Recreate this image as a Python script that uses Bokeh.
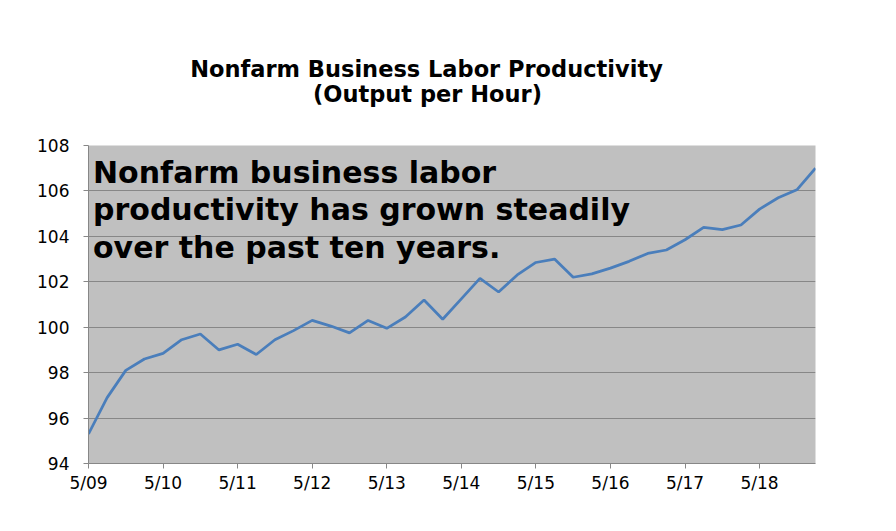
from bokeh.plotting import figure
from bokeh.layouts import column
from bokeh.models import ColumnDataSource, FixedTicker, Label, Range1d
from bokeh.embed import file_html
from bokeh.resources import INLINE

# Quarterly nonfarm business output per hour (index), Q2 2009 through Q1 2019
productivity = [
    95.3, 96.9, 98.1, 98.6, 98.85, 99.45, 99.7, 99.0, 99.25, 98.8,
    99.45, 99.85, 100.3, 100.05, 99.75, 100.3, 99.95, 100.45, 101.2, 100.35,
    101.25, 102.15, 101.55, 102.3, 102.85, 103.0, 102.2, 102.35, 102.6, 102.9,
    103.25, 103.4, 103.85, 104.4, 104.3, 104.5, 105.2, 105.7, 106.05, 107.0,
]
quarter = list(range(len(productivity)))

# One label per year, every fourth quarter
x_tick_labels = ["5/09", "5/10", "5/11", "5/12", "5/13",
                 "5/14", "5/15", "5/16", "5/17", "5/18"]
x_tick_pos = [4 * k for k in range(len(x_tick_labels))]
y_ticks = [94, 96, 98, 100, 102, 104, 106, 108]

title_lines = ["Nonfarm Business Labor Productivity", "(Output per Hour)"]
note_lines = ["Nonfarm business labor",
              "productivity has grown steadily",
              "over the past ten years."]

GRID = "#878787"
BOLD_FONT = "DejaVu Sans"
AXIS_FONT = "DejaVu Sans"
WIDTH = 896
HEADER_H = 120
CHART_H = 411

# ---- header strip holding the two-line title ----
header = figure(
    width=WIDTH, height=HEADER_H,
    output_backend="svg", toolbar_location=None,
    x_axis_location=None, y_axis_location=None,
    x_range=Range1d(0, 1), y_range=Range1d(0, 1),
    min_border=0,
)
header.outline_line_color = None
header.background_fill_color = "white"
header.border_fill_color = "white"
header.xgrid.visible = False
header.ygrid.visible = False
for text, cx, by in zip(title_lines, [338, 339], [51.8, 26.5]):
    header.add_layout(Label(
        x=cx, y=by, x_units="screen", y_units="screen", text=text,
        text_font=BOLD_FONT, text_font_style="bold", text_font_size="22.5px",
        text_align="center", text_baseline="alphabetic", text_color="black",
    ))

# ---- main line chart ----
source = ColumnDataSource(data=dict(q=quarter, v=productivity))

p = figure(
    width=WIDTH, height=CHART_H,
    output_backend="svg", toolbar_location=None,
    x_range=Range1d(quarter[0], quarter[-1]),
    y_range=Range1d(y_ticks[0], y_ticks[-1]),
    min_border_left=88, min_border_right=81,
    min_border_top=25, min_border_bottom=68,
)
p.background_fill_color = "#C0C0C0"
p.border_fill_color = "white"
p.outline_line_color = None

p.xgrid.grid_line_color = None
p.ygrid.grid_line_color = GRID
p.ygrid.grid_line_width = 1
p.ygrid.ticker = FixedTicker(ticks=y_ticks)

p.yaxis.ticker = FixedTicker(ticks=y_ticks)
p.xaxis.ticker = FixedTicker(ticks=x_tick_pos)
p.xaxis.major_label_overrides = {pos: lab for pos, lab in zip(x_tick_pos, x_tick_labels)}

for ax in (p.xaxis, p.yaxis):
    ax.axis_line_color = GRID
    ax.major_tick_line_color = GRID
    ax.minor_tick_line_color = None
    ax.major_tick_in = 0
    ax.major_tick_out = 5
    ax.major_label_text_font = AXIS_FONT
    ax.major_label_text_font_size = "17px"
    ax.major_label_text_color = "black"

p.yaxis.major_label_standoff = 14
p.xaxis.major_label_standoff = 4

p.line(x="q", y="v", source=source, line_color="#4A7EBB", line_width=2.75)

# Call-out inside the plot area
for text, by in zip(note_lines, [291.3, 254, 216.5]):
    p.add_layout(Label(
        x=4.5, y=by, x_units="screen", y_units="screen", text=text,
        text_font=BOLD_FONT, text_font_style="bold", text_font_size="30px",
        text_align="left", text_baseline="alphabetic", text_color="black",
    ))

layout = column(header, p, spacing=0)
open("out.html", "w").write(file_html(layout, INLINE))
